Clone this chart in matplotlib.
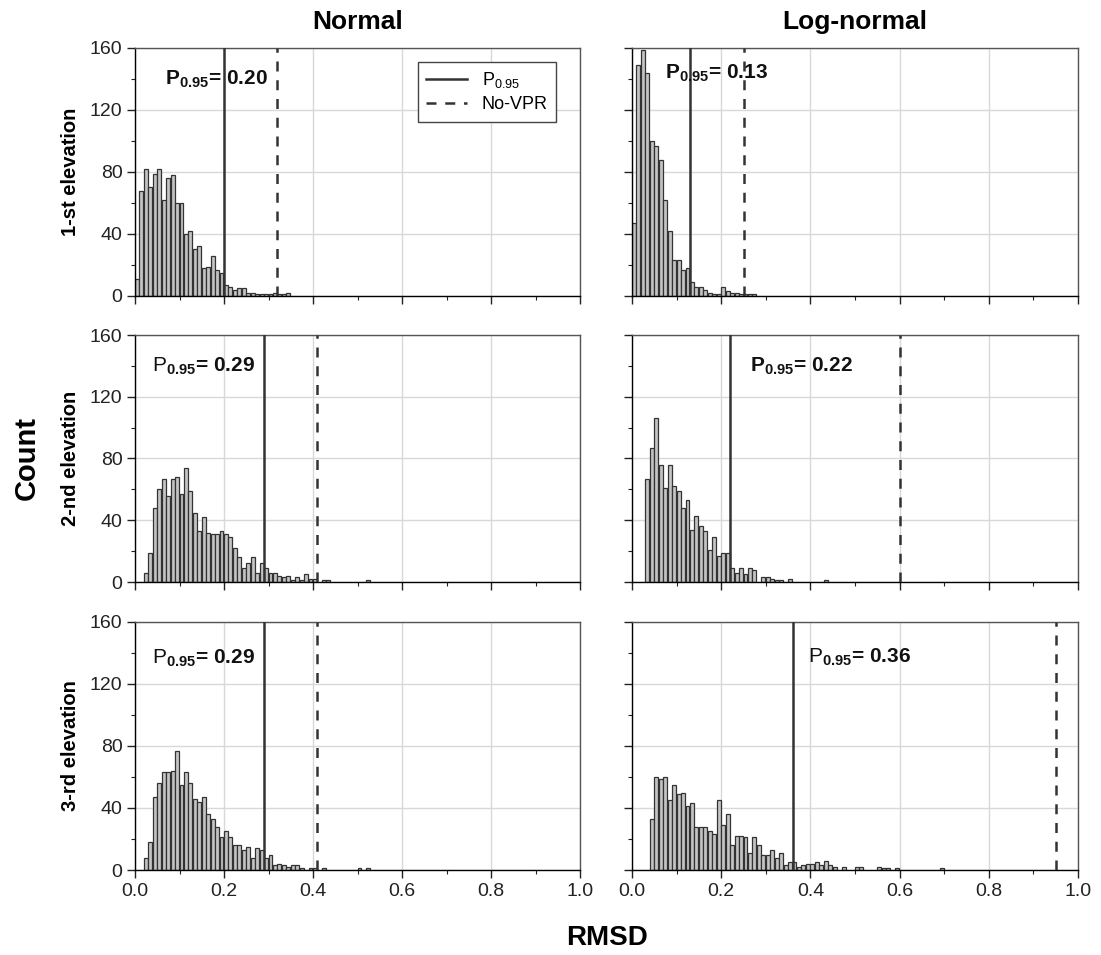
import numpy as np
import matplotlib
matplotlib.use('Agg')
import matplotlib.pyplot as plt
from matplotlib.lines import Line2D

plt.rcParams['font.family'] = ['Liberation Sans', 'DejaVu Sans']
plt.rcParams['mathtext.fontset'] = 'custom'
plt.rcParams['mathtext.rm'] = 'Liberation Sans'
plt.rcParams['mathtext.bf'] = 'Liberation Sans:bold'
plt.rcParams['mathtext.it'] = 'Liberation Sans:italic'

# counts per 0.01 RMSD bin, starting at 0.00
normal_1 = [11, 68, 82, 70, 79, 82, 62, 76, 78, 60, 60, 40, 42, 30, 32, 18, 19, 26, 17, 15,
            7, 6, 4, 5, 5, 2, 2, 1, 1, 1, 1, 2, 1, 1, 2]
lognorm_1 = [47, 149, 159, 144, 100, 97, 88, 62, 42, 23, 23, 17, 18, 9, 6, 6, 4, 2, 1, 1,
             6, 3, 2, 2, 1, 1, 1, 1]
normal_2 = [0, 0, 6, 19, 48, 60, 67, 56, 67, 68, 57, 74, 59, 45, 33, 42, 32, 31, 31, 33,
            31, 29, 22, 16, 9, 12, 16, 6, 12, 9, 6, 6, 4, 3, 4, 1, 3, 1, 5, 2,
            2, 0, 1, 1, 0, 0, 0, 0, 0, 0, 0, 0, 1]
lognorm_2 = [0, 0, 0, 67, 87, 106, 76, 61, 76, 62, 59, 48, 53, 34, 43, 36, 33, 21, 29, 17,
             19, 19, 9, 6, 9, 5, 9, 8, 0, 3, 3, 2, 1, 1, 0, 2, 0, 0, 0, 0,
             0, 0, 0, 1]
normal_3 = [0, 0, 8, 18, 47, 56, 63, 63, 64, 77, 55, 63, 56, 46, 44, 47, 36, 33, 28, 21,
            25, 21, 16, 16, 13, 15, 8, 14, 13, 8, 10, 3, 4, 3, 2, 3, 3, 1, 0, 1,
            1, 0, 1, 0, 0, 0, 0, 0, 0, 0, 1, 0, 1]
lognorm_3 = [0, 0, 0, 0, 33, 60, 59, 60, 45, 55, 49, 50, 41, 43, 28, 28, 28, 25, 23, 45,
             29, 36, 16, 22, 22, 21, 11, 21, 16, 10, 10, 13, 8, 11, 3, 5, 5, 2, 3, 4,
             4, 5, 3, 6, 3, 2, 0, 2, 0, 0, 2, 2, 0, 0, 0, 2, 1, 1, 0, 1,
             0, 0, 0, 0, 0, 0, 0, 0, 0, 1]

p95 = [0.20, 0.13, 0.29, 0.22, 0.29, 0.36]
novpr = [0.32, 0.25, 0.41, 0.60, 0.41, 0.95]
bold_p = [True, True, False, True, False, False]
col_titles = ['Normal', 'Log-normal']
row_titles = ['1-st elevation', '2-nd elevation', '3-rd elevation']
bin_w = 0.01

series = [normal_1, lognorm_1, normal_2, lognorm_2, normal_3, lognorm_3]
# label anchor (x in data, baseline y in data)
lab_pos = [(0.067, 136), (0.074, 140), (0.038, 136), (0.265, 136), (0.038, 133), (0.395, 134)]

W, H = 1101, 955
fig = plt.figure(figsize=(W / 100, H / 100), dpi=100)

lefts = [135, 632]
rights = [580, 1078]
tops = [48, 335, 622]
bottoms = [296, 582, 870]

dark = '#333333'
for r in range(3):
    for c in range(2):
        i = r * 2 + c
        ax = fig.add_axes([lefts[c] / W, 1 - bottoms[r] / H,
                           (rights[c] - lefts[c]) / W, (bottoms[r] - tops[r]) / H])
        counts = np.array(series[i])
        edges = np.arange(len(counts)) * bin_w
        m = counts > 0
        ax.bar(edges[m], counts[m], width=bin_w * 0.88, align='edge',
               color='#c4c4c4', edgecolor='#333333', linewidth=0.9, zorder=2)
        ax.axvline(p95[i], color=dark, lw=1.8, zorder=3)
        ax.axvline(novpr[i], color=dark, lw=1.8, ls=(0, (4, 3.5)), zorder=3)

        ax.set_xlim(0, 1.0)
        ax.set_ylim(0, 160)
        ax.set_xticks(np.arange(0, 1.01, 0.2))
        ax.set_xticks(np.arange(0.1, 1.0, 0.2), minor=True)
        ax.set_yticks(np.arange(0, 161, 40))
        ax.set_yticks(np.arange(20, 160, 40), minor=True)
        ax.grid(True, which='major', color='#d8d8d8', lw=1.0, zorder=0)
        ax.set_axisbelow(True)
        ax.tick_params(which='major', direction='out', length=6, width=1.0,
                       labelsize=14, colors='#222222', pad=3)
        ax.tick_params(which='minor', direction='out', length=3, width=0.8, colors='#222222')
        for s in ['top', 'right']:
            ax.spines[s].set_color('#555555')
        for s in ax.spines.values():
            s.set_linewidth(1.0)

        if r == 2:
            ax.set_xticklabels(['%.1f' % v for v in np.arange(0, 1.01, 0.2)])
        else:
            ax.set_xticklabels([])
        if c == 0:
            ax.set_yticklabels(['%d' % v for v in np.arange(0, 161, 40)])
        else:
            ax.set_yticklabels([])

        pstr = r'$\mathbf{P}_{\mathbf{0.95}}$' if bold_p[i] else r'$\mathrm{P}_{\mathbf{0.95}}$'
        ax.text(lab_pos[i][0], lab_pos[i][1], pstr + '= %.2f' % p95[i], fontsize=15,
                fontweight='bold', ha='left', va='baseline', color='#111111', zorder=5)

        if i == 0:
            handles = [Line2D([], [], color=dark, lw=1.8),
                       Line2D([], [], color=dark, lw=1.8, ls=(0, (4, 3.5)))]
            leg = ax.legend(handles, [r'P$_{\mathrm{0.95}}$', 'No-VPR'], loc='upper left',
                            bbox_to_anchor=(0.615, 0.98), fontsize=13, frameon=True,
                            fancybox=False, edgecolor='#444444', framealpha=1,
                            handlelength=2.3, borderpad=0.45, labelspacing=0.35)
            leg.get_frame().set_linewidth(1.0)

        if r == 0:
            ax.set_title(col_titles[c], fontsize=19, fontweight='bold', pad=14)
        if c == 0:
            fig.text(70 / W, 1 - (tops[r] + bottoms[r]) / 2 / H, row_titles[r],
                     rotation=90, fontsize=14.5, fontweight='bold', ha='center', va='center')

fig.text(27 / W, 1 - 458 / H, 'Count', rotation=90, fontsize=21, fontweight='bold',
         ha='center', va='center')
fig.text(607 / W, 1 - 938 / H, 'RMSD', fontsize=20, fontweight='bold', ha='center', va='center')

fig.savefig('out.png', dpi=100)
